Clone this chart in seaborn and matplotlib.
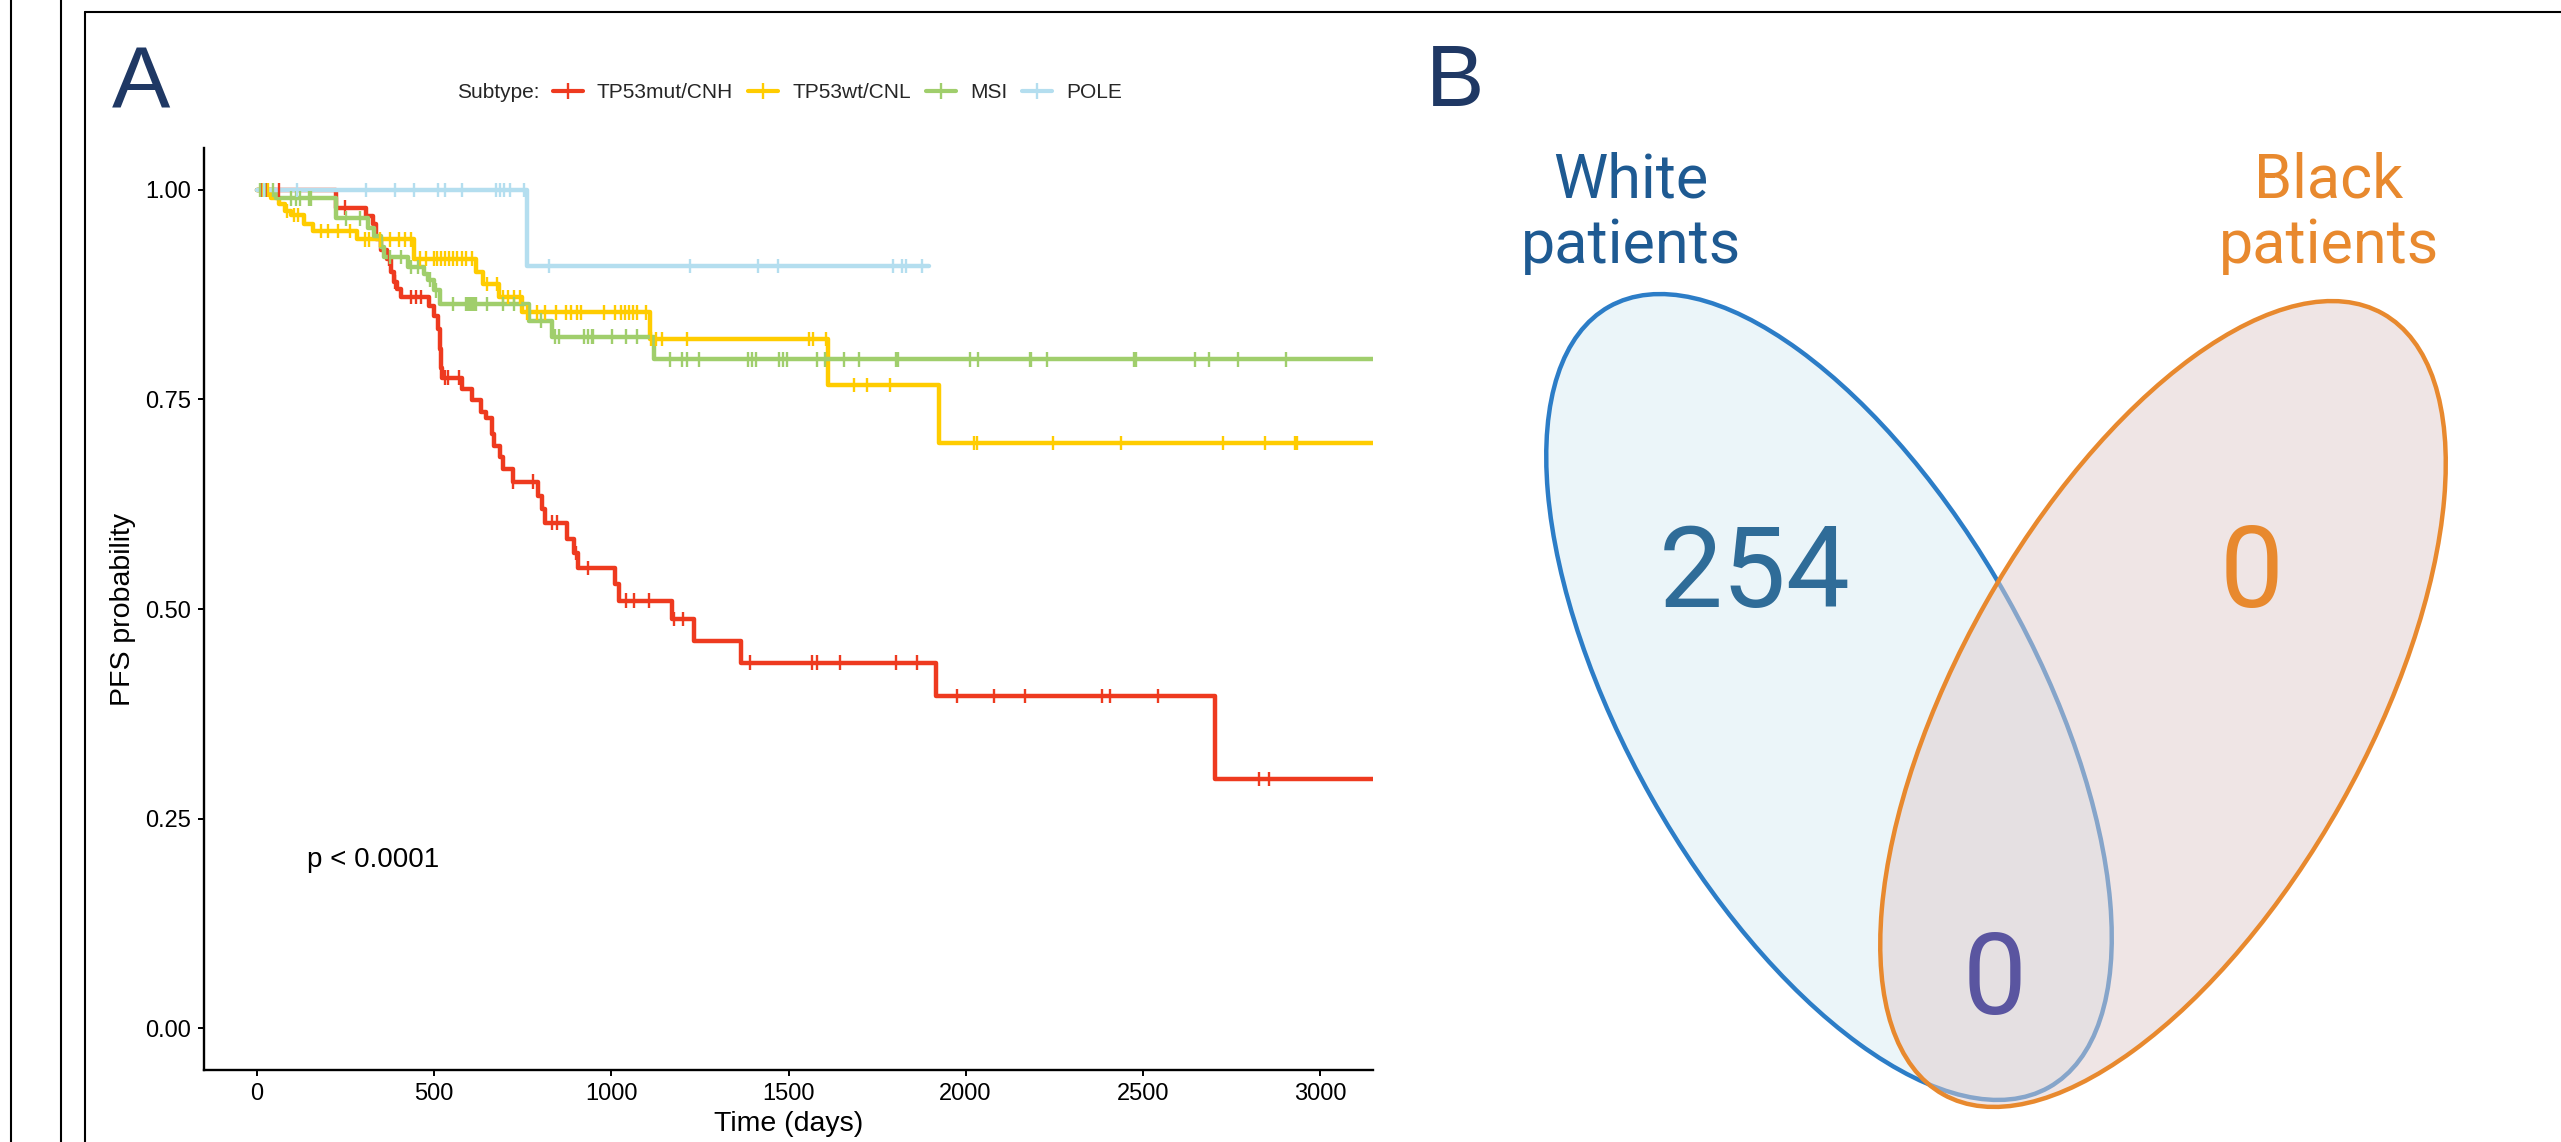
import numpy as np
import pandas as pd
import matplotlib
matplotlib.use("Agg")
import matplotlib.pyplot as plt
import seaborn as sns
from matplotlib.patches import Ellipse
from matplotlib.lines import Line2D

# ---------------- data ----------------
subtypes = ["TP53mut/CNH", "TP53wt/CNL", "MSI", "POLE"]
palette = ["#EE3A1F", "#FFCC00", "#A0CE6C", "#B4DEEF"]

# Kaplan-Meier step points (time in days, PFS probability after the step)
red_t = [0, 223, 308, 326, 336, 350, 367, 378, 385, 395, 406, 486, 500, 510, 515, 519, 523,
         577, 607, 633, 645, 663, 669, 685, 695, 723, 793, 804, 814, 876, 895, 906, 1011,
         1022, 1171, 1234, 1365, 1916, 2705, 3300]
red_s = [1.0, 0.979, 0.969, 0.959, 0.942, 0.928, 0.918, 0.902, 0.890, 0.882, 0.872, 0.862,
         0.850, 0.834, 0.810, 0.788, 0.776, 0.762, 0.749, 0.735, 0.728, 0.709, 0.695, 0.681,
         0.667, 0.652, 0.635, 0.619, 0.603, 0.584, 0.567, 0.549, 0.530, 0.510, 0.488, 0.462,
         0.436, 0.396, 0.297, 0.297]
red_c = [11, 25, 63, 248, 373, 388, 435, 449, 463, 529, 539, 571, 723, 780, 833, 847, 899,
         933, 1041, 1063, 1106, 1176, 1203, 1392, 1565, 1581, 1646, 1804, 1862, 1976, 2081,
         2168, 2384, 2407, 2544, 2827, 2857]

yel_t = [0, 40, 63, 80, 96, 131, 158, 282, 444, 617, 639, 682, 747, 1109, 1612, 1924, 3300]
yel_s = [1.0, 0.990, 0.983, 0.975, 0.970, 0.959, 0.951, 0.941, 0.918, 0.902, 0.888, 0.872,
         0.854, 0.822, 0.767, 0.698, 0.698]
yel_c = [16, 30, 85, 105, 115, 180, 201, 228, 261, 304, 315, 347, 374, 401, 417, 433, 460,
         477, 498, 509, 520, 531, 541, 552, 563, 579, 590, 606, 650, 677, 693, 709, 725, 741,
         763, 790, 812, 844, 871, 887, 903, 915, 979, 1011, 1028, 1039, 1050, 1060, 1071,
         1098, 1111, 1125, 1144, 1214, 1558, 1568, 1606, 1684, 1722, 1787, 2023, 2032, 2248,
         2440, 2726, 2845, 2931, 2935]

grn_t = [0, 54, 223, 312, 331, 350, 359, 425, 472, 482, 500, 515, 768, 833, 1120, 3300]
grn_s = [1.0, 0.990, 0.966, 0.955, 0.945, 0.932, 0.920, 0.908, 0.900, 0.893, 0.880, 0.864,
         0.844, 0.825, 0.798, 0.798]
grn_c = [7, 18, 21, 44, 96, 110, 120, 147, 152, 250, 290, 374, 407, 433, 455, 488, 504, 552,
         590, 596, 601, 606, 612, 617, 650, 693, 725, 801, 841, 852, 922, 933, 944, 949, 1003,
         1041, 1072, 1165, 1198, 1214, 1246, 1387, 1398, 1408, 1473, 1484, 1495, 1581, 1603,
         1657, 1700, 1804, 1810, 2012, 2035, 2182, 2185, 2230, 2476, 2481, 2647, 2688, 2768,
         2904]

pole_t = [0, 761, 1896]
pole_s = [1.0, 0.909, 0.909]
pole_c = [20, 113, 308, 390, 443, 511, 531, 577, 673, 685, 696, 714, 754, 825, 1222, 1413,
          1470, 1794, 1821, 1832, 1876]

x_ticks = [0, 500, 1000, 1500, 2000, 2500, 3000]
y_ticks = [0.00, 0.25, 0.50, 0.75, 1.00]
pval_text = "p < 0.0001"

venn_sets = ["White\npatients", "Black\npatients"]
venn_counts = [254, 0, 0]  # white only, black only, both

# ---------------- build tables ----------------
series = {
    "TP53mut/CNH": (red_t, red_s, red_c),
    "TP53wt/CNL": (yel_t, yel_s, yel_c),
    "MSI": (grn_t, grn_s, grn_c),
    "POLE": (pole_t, pole_s, pole_c),
}
line_rows, cens_rows = [], []
for name in subtypes:
    t, s, c = series[name]
    for ti, si in zip(t, s):
        line_rows.append((name, ti, si))
    t_arr, s_arr = np.asarray(t), np.asarray(s)
    for ci in c:
        idx = np.searchsorted(t_arr, ci, side="right") - 1
        cens_rows.append((name, ci, s_arr[idx]))
df_lines = pd.DataFrame(line_rows, columns=["Subtype", "time", "surv"])
df_cens = pd.DataFrame(cens_rows, columns=["Subtype", "time", "surv"])

# ---------------- figure ----------------
sns.set_style("white")
plt.rcParams["font.family"] = ["Liberation Sans", "DejaVu Sans"]

W, H = 2561, 1142
fig = plt.figure(figsize=(W / 100, H / 100), dpi=100)

# Panel A axes
ax = fig.add_axes([204 / W, 1 - 1070 / H, (1373 - 204) / W, (1070 - 148) / H])
sns.lineplot(data=df_lines, x="time", y="surv", hue="Subtype", hue_order=subtypes,
             palette=palette, drawstyle="steps-post", estimator=None, linewidth=3.2,
             legend=False, ax=ax)
sns.scatterplot(data=df_cens, x="time", y="surv", hue="Subtype", hue_order=subtypes,
                palette=palette, marker="|", s=110, linewidth=1.7, legend=False, ax=ax,
                zorder=3)
ax.set_xlim(-150, 3150)
ax.set_ylim(-0.05, 1.05)
ax.set_xticks(x_ticks)
ax.set_yticks(y_ticks)
ax.set_yticklabels([f"{v:.2f}" for v in y_ticks])
for sp in ["top", "right"]:
    ax.spines[sp].set_visible(False)
for sp in ["left", "bottom"]:
    ax.spines[sp].set_linewidth(1.7)
    ax.spines[sp].set_color("black")
ax.tick_params(axis="both", length=4.5, width=1.4, labelsize=17, colors="black",
               direction="out", left=True, bottom=True)
ax.tick_params(axis="y", pad=5)
ax.tick_params(axis="x", pad=5)
ax.set_xlabel("Time (days)", fontsize=20.5, color="black")
ax.set_ylabel("PFS probability", fontsize=20.5, color="black")
ax.xaxis.set_label_coords(0.5, -0.044)
ax.yaxis.set_label_coords(-0.058, 0.5)
ax.text(140, 0.20, pval_text, fontsize=20, va="center", ha="left", color="black")

# Legend
fig.text(457 / W, 1 - 93 / H, "Subtype:", fontsize=15, va="center", ha="left")
handles = [Line2D([0], [0], color=c, lw=3.0, marker="|", markersize=11, mew=1.7)
           for c in palette]
fig.legend(handles, subtypes, loc="center left", bbox_to_anchor=(553 / W, 1 - 93 / H),
           ncol=4, frameon=False, fontsize=15, handlelength=1.44, handletextpad=0.67,
           columnspacing=0.72, borderpad=0, borderaxespad=0)

# Panel letters
fig.text(112 / W, 1 - 108 / H, "A", fontsize=63, color="#1F3864", ha="left", va="baseline")
fig.text(1426 / W, 1 - 106 / H, "B", fontsize=63, color="#1F3864", ha="left", va="baseline")

# Frame lines
lw_frame = 1.5
for xp in [11, 61]:
    fig.add_artist(Line2D([xp / W, xp / W], [0, 1], transform=fig.transFigure,
                          color="black", lw=lw_frame))
fig.add_artist(Line2D([85 / W, 1], [1 - 12 / H, 1 - 12 / H], transform=fig.transFigure,
                      color="black", lw=lw_frame))
fig.add_artist(Line2D([85 / W, 85 / W], [0, 1 - 12 / H], transform=fig.transFigure,
                      color="black", lw=lw_frame))

# Panel B: Venn diagram (pixel-like coordinate system)
ax2 = fig.add_axes([1400 / W, 0, (W - 1400) / W, 1])
ax2.set_xlim(1400, W)
ax2.set_ylim(0, H)
ax2.set_axis_off()

e_white = Ellipse((1829, H - 697), width=408, height=896, angle=29.4,
                  facecolor="#EBF5F9", edgecolor="#2C7DC7", lw=3.2, zorder=1)
e_black = Ellipse((2163, H - 704), width=408, height=896, angle=-29.4,
                  facecolor=(225 / 255, 205 / 255, 205 / 255, 0.5), edgecolor="#E8892E",
                  lw=3.2, zorder=2)
ax2.add_patch(e_white)
ax2.add_patch(e_black)

venn_font = ["Roboto", "DejaVu Sans"]
w1, w2 = venn_sets[0].split("\n")
b1, b2 = venn_sets[1].split("\n")
ax2.text(1631, H - 198, w1, fontsize=44, color="#1E5A92", ha="center", va="baseline",
         family=venn_font)
ax2.text(1631, H - 263, w2, fontsize=44, color="#1E5A92", ha="center", va="baseline",
         family=venn_font)
ax2.text(2329, H - 198, b1, fontsize=44, color="#E8892E", ha="center", va="baseline",
         family=venn_font)
ax2.text(2329, H - 263, b2, fontsize=44, color="#E8892E", ha="center", va="baseline",
         family=venn_font)

ax2.text(1755, H - 607, str(venn_counts[0]), fontsize=82, color="#2F6C98", ha="center",
         va="baseline", family=venn_font, zorder=5)
ax2.text(2252, H - 607, str(venn_counts[1]), fontsize=82, color="#E8892E", ha="center",
         va="baseline", family=venn_font, zorder=5)
ax2.text(1995, H - 1014, str(venn_counts[2]), fontsize=82, color="#5A55A0", ha="center",
         va="baseline", family=venn_font, zorder=5)

fig.savefig("out.png", dpi=100, facecolor="white")
